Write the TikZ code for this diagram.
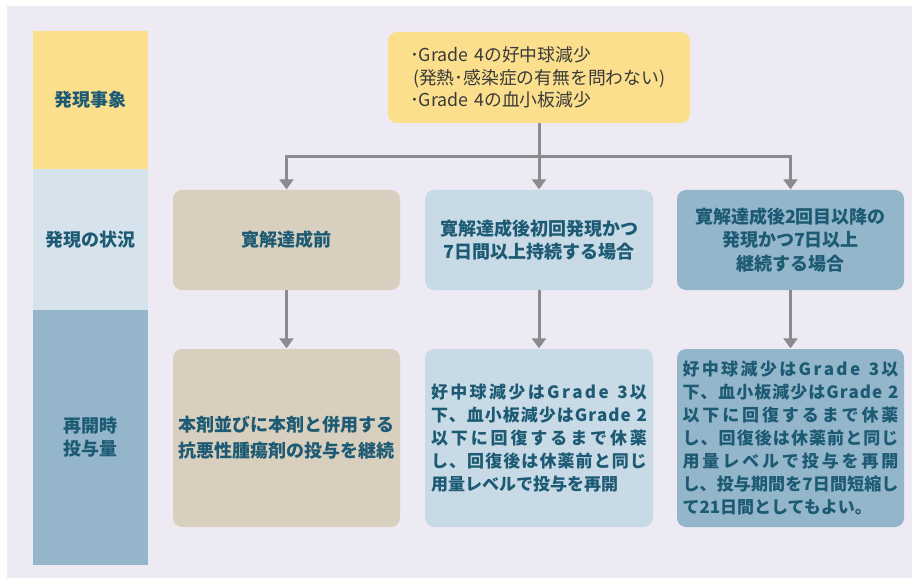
\documentclass[tikz,border=0pt]{standalone}
\usepackage{fontspec}
\setmainfont{Noto Sans CJK JP}
\usetikzlibrary{arrows.meta}
\definecolor{bgc}{HTML}{EEEAF3}
\definecolor{yel}{HTML}{FBDF8D}
\definecolor{lblue}{HTML}{D6E3EC}
\definecolor{dblue}{HTML}{94B5CA}
\definecolor{beige}{HTML}{D9CFBF}
\definecolor{mblue}{HTML}{C7DAE6}
\definecolor{bblue}{HTML}{94B6CB}
\definecolor{teal}{HTML}{1D5A73}
\definecolor{dgray}{HTML}{3A3A3A}
\definecolor{arr}{HTML}{8A8A8F}
\ExplSyntaxOn
\NewDocumentCommand\jl{m}{\makebox[216pt][s]{\tl_map_inline:nn{#1}{##1\hskip 0pt plus 1fil}\unskip}}
\ExplSyntaxOff
\tikzset{
  card/.style={rounded corners=9pt, inner sep=0pt, text=teal, font=\bfseries\fontsize{18}{23.5}\selectfont, align=center},
  band/.style={inner sep=0pt, minimum width=115pt, text=teal, font=\bfseries\fontsize{18}{23}\selectfont, align=center},
  conn/.style={draw=arr, line width=3pt},
  arrow/.style={conn, -{Triangle[width=14pt,length=10pt]}, shorten >=0.5pt}
}
\begin{document}
\begin{tikzpicture}[x=1pt,y=-1pt]
\useasboundingbox (0,0) rectangle (918,580);
\fill[white] (0,0) rectangle (918,580);
\fill[bgc] (7,6) rectangle (912,578);
% left column
\node[band, fill=yel, minimum height=138pt] (lab1) at (90.5,100) {発現事象};
\node[band, fill=lblue, minimum height=141pt] (lab2) at (90.5,239.5) {発現の状況};
\node[band, fill=dblue, minimum height=255pt] (lab3) at (90.5,437.5) {再開時\\投与量};
% top box
\node[card, fill=yel, minimum width=302pt, minimum height=91pt, align=left, text=dgray,
      font=\fontsize{17.8}{22.5}\selectfont, text width=252pt] (top) at (539,77.5)
  {\hspace*{-3pt}･Grade 4の好中球減少\\(発熱･感染症の有無を問わない)\\\hspace*{-3pt}･Grade 4の血小板減少};
% row 2
\node[card, fill=beige, minimum width=227pt, minimum height=100pt] (s1) at (286.5,240) {寛解達成前};
\node[card, fill=mblue, minimum width=228pt, minimum height=100pt] (s2) at (539,240) {寛解達成後初回発現かつ\\7日間以上持続する場合};
\node[card, fill=bblue, minimum width=227pt, minimum height=100pt] (s3) at (790.5,240) {寛解達成後2回目以降の\\発現かつ7日以上\\継続する場合};
% row 3
\node[card, fill=beige, minimum width=227pt, minimum height=178pt, font=\bfseries\fontsize{18}{26}\selectfont] (d1) at (286.5,438)
  {本剤並びに本剤と併用する\\抗悪性腫瘍剤の投与を継続};
\node[card, fill=mblue, minimum width=228pt, minimum height=178pt, align=left, font=\bfseries\fontsize{17}{23}\selectfont] (d2) at (539,438)
  {\jl{好中球減少はGrade~3以}\\\jl{下、血小板減少はGrade~2}\\\jl{以下に回復するまで休薬}\\\jl{し、回復後は休薬前と同じ}\\用量レベルで投与を再開};
\node[card, fill=bblue, minimum width=227pt, minimum height=178pt, align=left, font=\bfseries\fontsize{17}{23}\selectfont] (d3) at (790.5,438)
  {\jl{好中球減少はGrade~3以}\\\jl{下、血小板減少はGrade~2}\\\jl{以下に回復するまで休薬}\\\jl{し、回復後は休薬前と同じ}\\\jl{用量レベルで投与を再開}\\\jl{し、投与期間を7日間短縮し}\\て21日間としてもよい。};
% connectors
\coordinate (j) at (539,157);
\draw[conn] (top.south) -- (j);
\draw[conn, line cap=rect] (s1.north |- j) -- (s3.north |- j);
\draw[arrow] (s1.north |- j) -- (s1.north);
\draw[arrow] (j) -- (s2.north);
\draw[arrow] (s3.north |- j) -- (s3.north);
\draw[arrow] (s1.south) -- (d1.north);
\draw[arrow] (s2.south) -- (d2.north);
\draw[arrow] (s3.south) -- (d3.north);
\end{tikzpicture}
\end{document}
